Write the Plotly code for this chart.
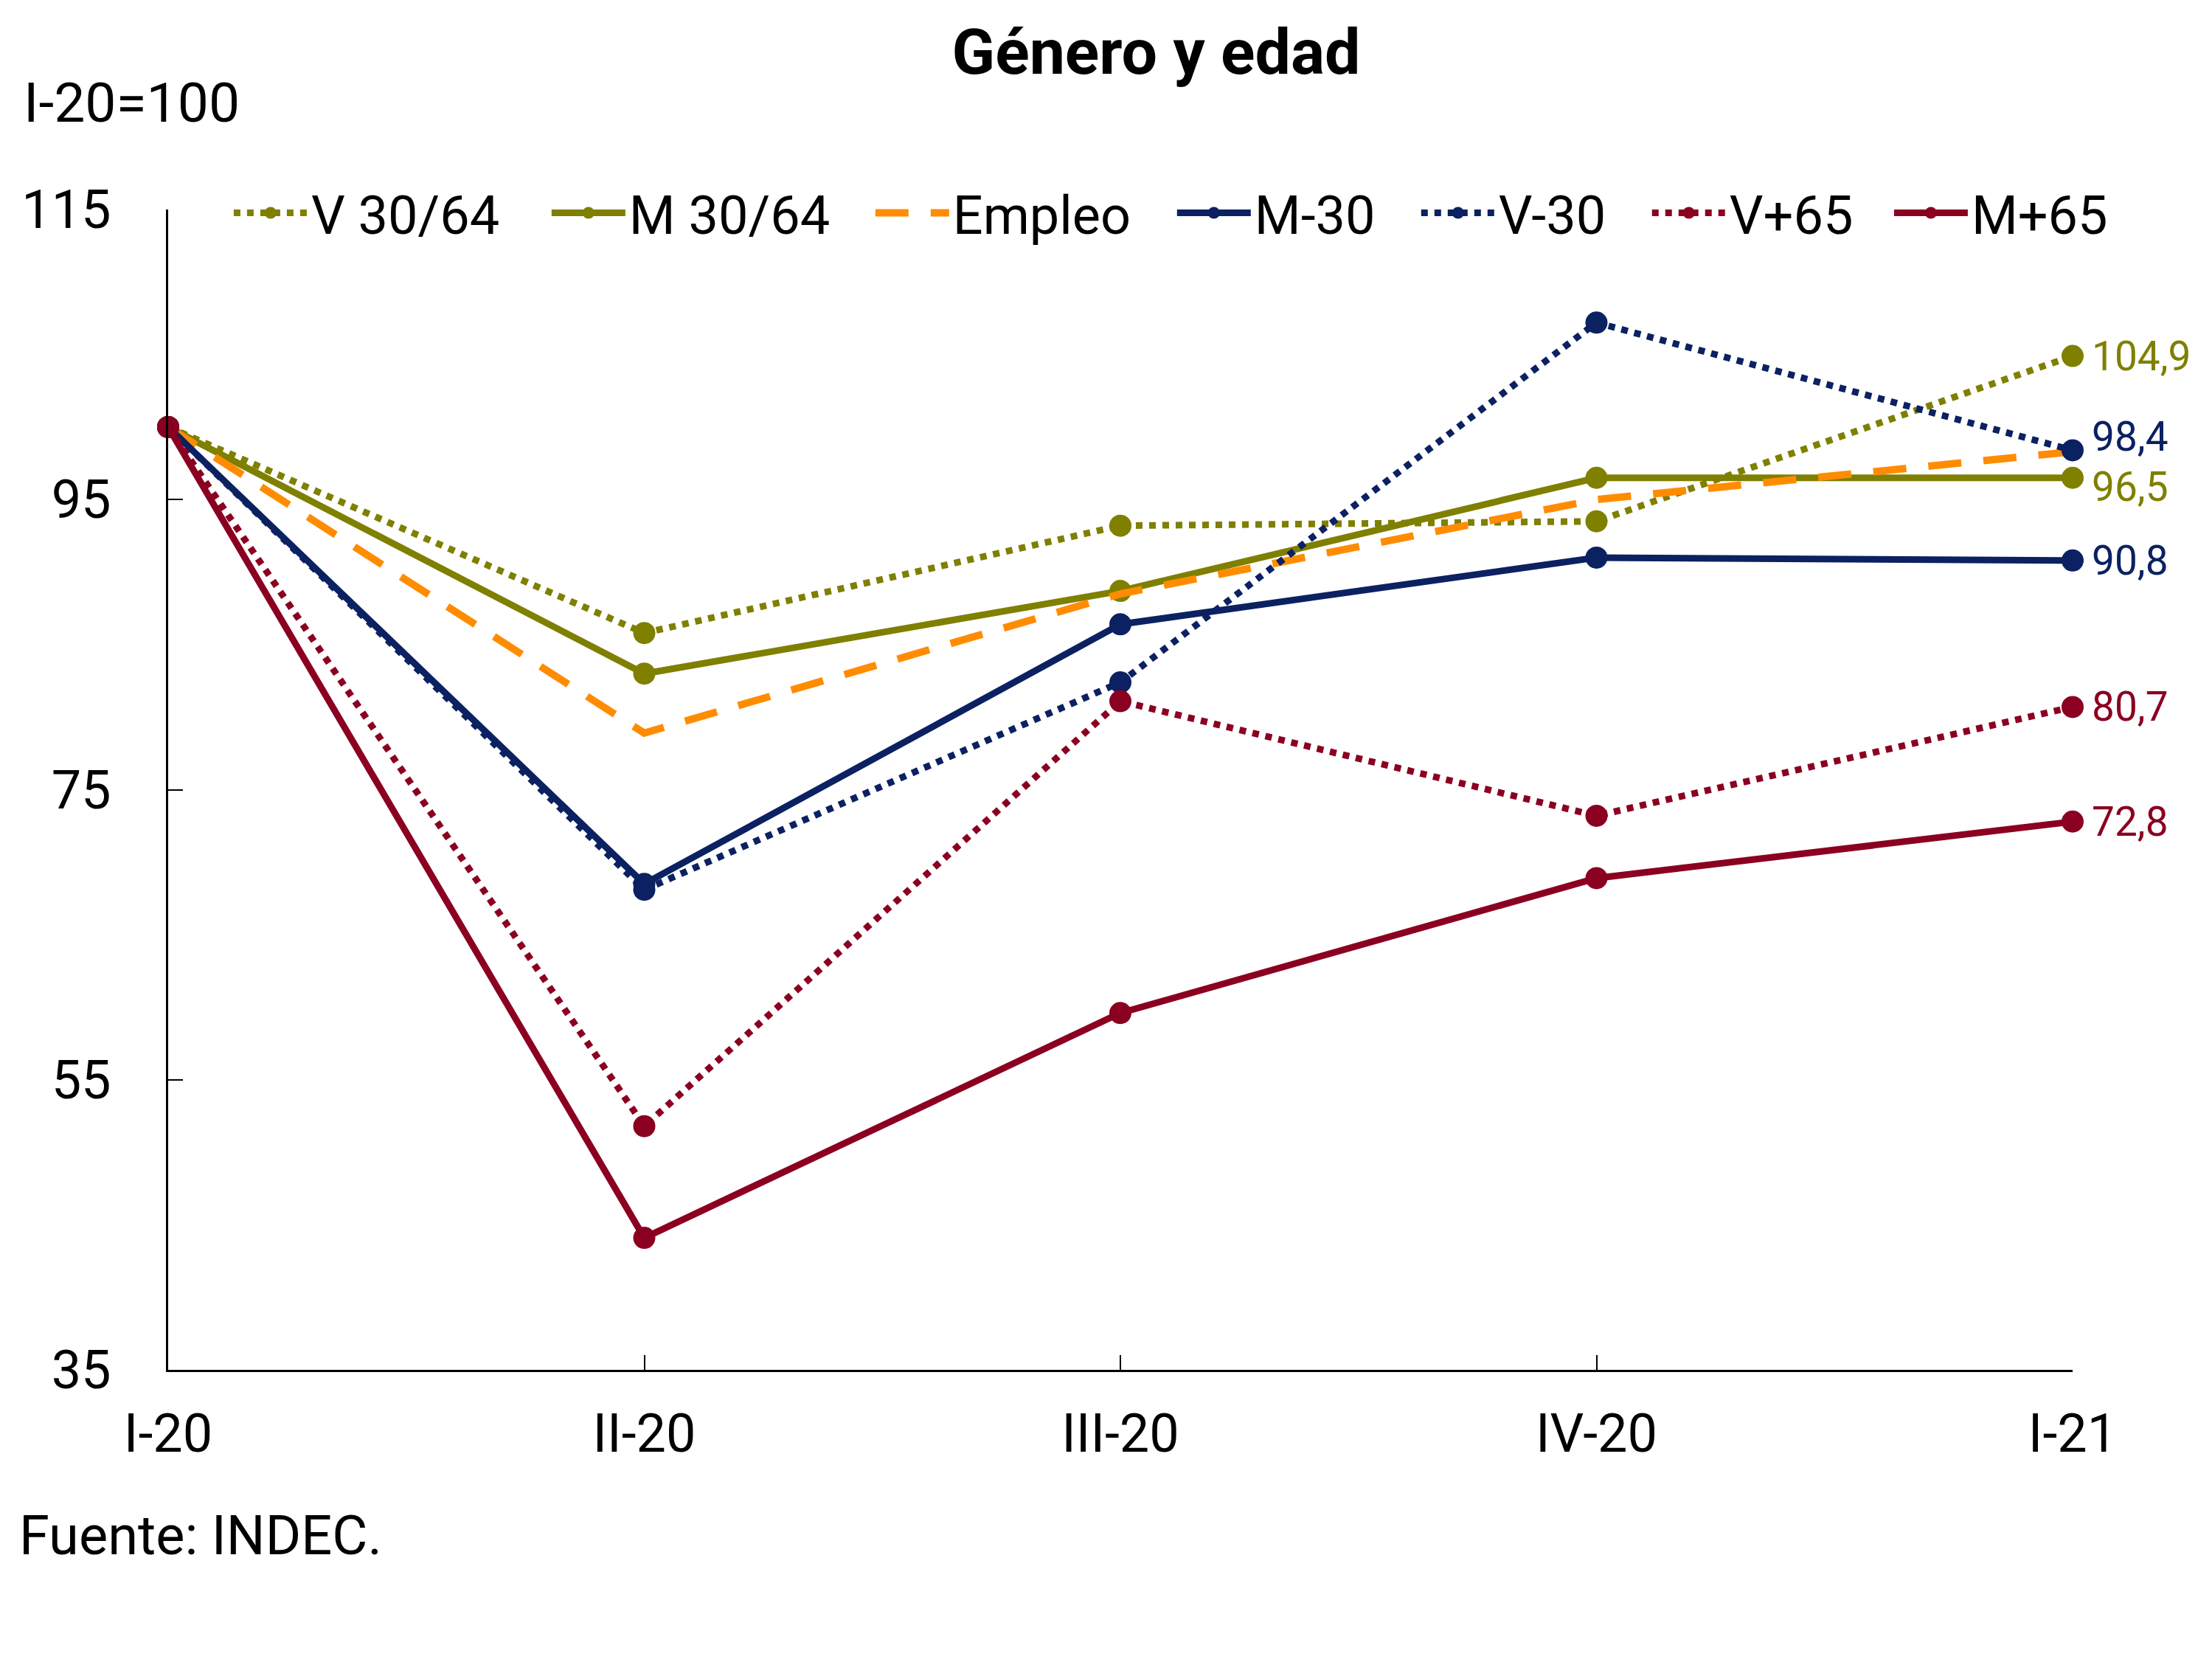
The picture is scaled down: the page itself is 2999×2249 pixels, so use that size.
import plotly.graph_objects as go

categories = ["I-20", "II-20", "III-20", "IV-20", "I-21"]

v_30_64 = [100.0, 85.8, 93.2, 93.5, 104.9]
m_30_64 = [100.0, 83.0, 88.7, 96.5, 96.5]
empleo = [100.0, 78.9, 88.5, 95.0, 98.3]
m_menos30 = [100.0, 68.5, 86.4, 91.0, 90.8]
v_menos30 = [100.0, 68.1, 82.4, 107.2, 98.4]
v_mas65 = [100.0, 51.8, 81.1, 73.2, 80.7]
m_mas65 = [100.0, 44.1, 59.6, 68.9, 72.8]

y_ticks = [35, 55, 75, 95, 115]

OLIVE = "#7F7F00"
ORANGE = "#FF8C00"
NAVY = "#0B2161"
RED = "#8B0021"
FONT = "Roboto"

x_idx = list(range(len(categories)))

series = [
    ("V 30/64", v_30_64, OLIVE, "9px,9px", True),
    ("M 30/64", m_30_64, OLIVE, "solid", True),
    ("Empleo", empleo, ORANGE, "45px,30px", False),
    ("M-30", m_menos30, NAVY, "solid", True),
    ("V-30", v_menos30, NAVY, "9px,9px", True),
    ("V+65", v_mas65, RED, "9px,9px", True),
    ("M+65", m_mas65, RED, "solid", True),
]

# legend entry horizontal positions (paper fraction), one legend per entry
legend_x = [0.0325, 0.1994, 0.3694, 0.5278, 0.6560, 0.7772, 0.9043]

fig = go.Figure()
legend_layouts = {}
for i, (name, vals, color, dash, markers) in enumerate(series):
    width = 10 if name == "Empleo" else 9
    lname = "legend" if i == 0 else f"legend{i + 1}"
    fig.add_trace(go.Scatter(
        x=x_idx, y=vals, name=name,
        mode="lines+markers" if markers else "lines",
        line=dict(color=color, width=width, dash=dash),
        marker=dict(size=30, color=color),
        cliponaxis=False,
        hoverinfo="skip",
        legend=lname,
    ))
    legend_layouts[lname] = dict(
        orientation="h", x=legend_x[i], xanchor="left", y=0.997, yanchor="middle",
        font=dict(family=FONT, size=72, color="black"),
        bgcolor="rgba(0,0,0,0)", itemwidth=100, itemsizing="trace",
    )

# end-of-line value labels
label_shift = {"V 30/64": 0, "M 30/64": -12, "M-30": 0, "V-30": 18, "V+65": 0, "M+65": 0}
for name, vals, color, dash, markers in series:
    if name in label_shift:
        fig.add_annotation(
            x=x_idx[-1], y=vals[-1], xref="x", yref="y",
            text=f"{vals[-1]:.1f}".replace(".", ","),
            showarrow=False, xanchor="left", yanchor="middle",
            xshift=24, yshift=label_shift[name],
            font=dict(family=FONT, size=55, color=color),
        )

fig.add_annotation(
    text="I-20=100", xref="paper", yref="paper",
    x=-0.0765, y=1.092, xanchor="left", yanchor="middle",
    showarrow=False, font=dict(family=FONT, size=75, color="black"),
)
fig.add_annotation(
    text="Fuente: INDEC.", xref="paper", yref="paper",
    x=-0.079, y=-0.143, xanchor="left", yanchor="middle",
    showarrow=False, font=dict(family=FONT, size=74, color="black"),
)

fig.update_layout(
    width=2999, height=2249,
    margin=dict(l=220, r=197, t=276, b=400),
    paper_bgcolor="white", plot_bgcolor="white",
    font=dict(family=FONT, size=72, color="black"),
    title=dict(
        text="<b>Género y edad</b>", x=0.520, xanchor="center",
        y=1 - 62 / 2249, yanchor="middle", yref="container",
        font=dict(family=FONT, size=86, color="black"),
    ),
    showlegend=True,
    **legend_layouts,
)

fig.update_xaxes(
    range=[0, 4], tickmode="array", tickvals=x_idx, ticktext=categories,
    showgrid=False, zeroline=False, showline=True, linecolor="black", linewidth=3,
    ticks="inside", ticklen=20, tickwidth=2, tickcolor="black",
    ticklabelstandoff=22, tickfont=dict(family=FONT, size=72, color="black"),
)
fig.update_yaxes(
    range=[35, 115], tickmode="array", tickvals=y_ticks,
    showgrid=False, zeroline=False, showline=True, linecolor="black", linewidth=3,
    ticks="inside", ticklen=20, tickwidth=2, tickcolor="black",
    ticklabelstandoff=60, tickfont=dict(family=FONT, size=72, color="black"),
)

fig.write_html("out.html")
